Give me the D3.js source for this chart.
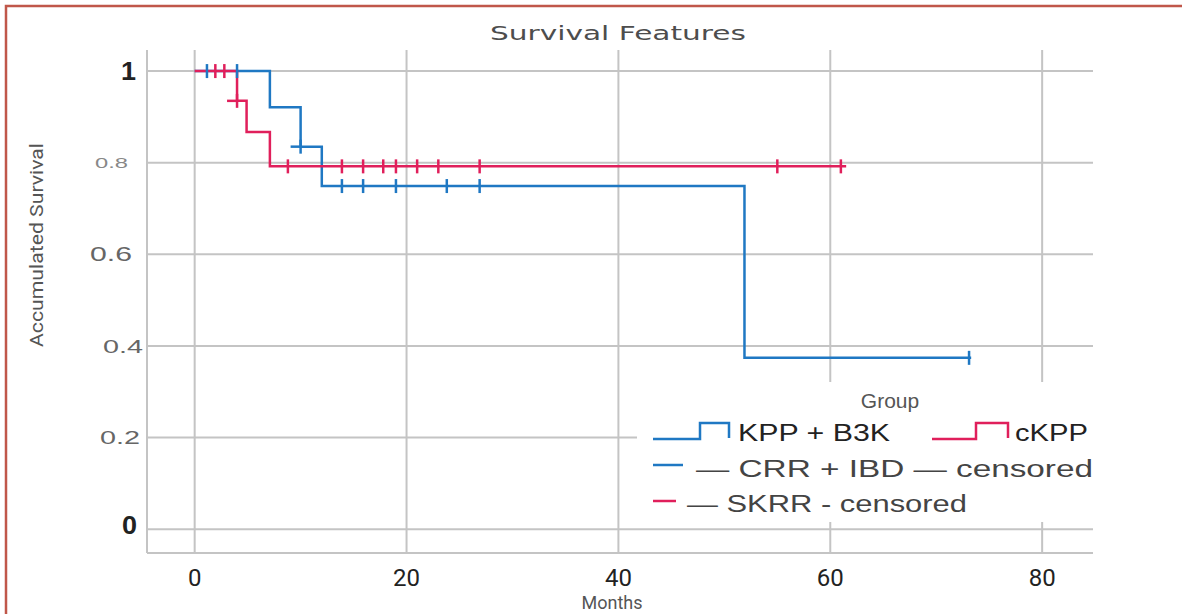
<!DOCTYPE html>
<html>
<head>
<meta charset="utf-8">
<script src="https://cdn.jsdelivr.net/npm/d3@7"></script>
<style>
  body { margin: 0; background: #fff; }
  svg { display: block; }
</style>
</head>
<body>
<svg id="chart" width="1182" height="614"></svg>
<script>
// step curve data (months, survival)
var blueTimes = [0, 7.1, 10.0, 12.0, 51.9];
var blueSurv = [1, 0.921, 0.835, 0.749, 0.374];
var blueEnd = 73.3;
var blueCensor = [1.16, 4.0, 10.0, 13.9, 15.9, 19.0, 23.8, 26.9, 73.1];

var redTimes = [0, 4.0, 4.9, 7.1];
var redSurv = [1, 0.935, 0.867, 0.792];
var redEnd = 61.5;
var redCensor = [1.95, 2.8, 4.0, 8.8, 13.9, 15.9, 17.8, 19.0, 21.0, 23.0, 26.9, 55.0, 61.0];

var xTicks = [0, 20, 40, 60, 80];
var yTicks = [0, 0.2, 0.4, 0.6, 0.8, 1];
var yTickLabels = ["0", "0.2", "0.4", "0.6", "0.8", "1"];

var blue = "#1f78c3", red = "#e01f5b", grid = "#c4c4c4";

var svg = d3.select("#chart");

// outer frame (only top and left edges visible)
svg.append("rect")
    .attr("x", 6).attr("y", 6)
    .attr("width", 1200).attr("height", 700)
    .attr("fill", "none")
    .attr("stroke", "#c0574a")
    .attr("stroke-width", 2.5);

var x = d3.scaleLinear().domain([-4.5, 84.8]).range([147, 1093]);
var y = d3.scaleLinear().domain([-0.052, 1.046]).range([553, 50]);

var g = svg.append("g");

// grid
g.selectAll("line.h")
    .data(yTicks.concat([-0.052]))
    .enter().append("line")
    .attr("x1", x(-4.5)).attr("x2", x(84.8))
    .attr("y1", function (d) { return y(d); })
    .attr("y2", function (d) { return y(d); })
    .attr("stroke", grid).attr("stroke-width", 2);

g.selectAll("line.v")
    .data([-4.5].concat(xTicks))
    .enter().append("line")
    .attr("x1", function (d) { return x(d); })
    .attr("x2", function (d) { return x(d); })
    .attr("y1", y(1.046)).attr("y2", y(-0.052))
    .attr("stroke", grid).attr("stroke-width", 2);

// title
svg.append("text")
    .attr("x", 618).attr("y", 40)
    .attr("text-anchor", "middle")
    .attr("font-family", "DejaVu Sans, sans-serif")
    .attr("font-size", 20)
    .attr("fill", "#4d4d4d")
    .attr("textLength", 256).attr("lengthAdjust", "spacingAndGlyphs")
    .text("Survival Features");

// y tick labels, the reference uses mixed sizes
var yStyle = {
    "0": { size: 25, right: 137, width: 15, fill: "#222", weight: "bold" },
    "0.2": { size: 19, right: 140, width: 40, fill: "#666", weight: "normal" },
    "0.4": { size: 19, right: 143, width: 40, fill: "#666", weight: "normal" },
    "0.6": { size: 20, right: 132, width: 42, fill: "#666", weight: "normal" },
    "0.8": { size: 14, right: 128, width: 33, fill: "#888", weight: "normal" },
    "1": { size: 26, right: 136, width: 15, fill: "#222", weight: "bold" }
};
svg.selectAll("text.ytick")
    .data(yTicks)
    .enter().append("text")
    .attr("class", "ytick")
    .attr("x", function (d, i) { return yStyle[yTickLabels[i]].right; })
    .attr("y", function (d, i) { return y(d) - (i == 0 ? 4 : 0); })
    .attr("dy", "0.35em")
    .attr("text-anchor", "end")
    .attr("font-family", "Liberation Sans, Arial, sans-serif")
    .attr("font-size", function (d, i) { return yStyle[yTickLabels[i]].size; })
    .attr("font-weight", function (d, i) { return yStyle[yTickLabels[i]].weight; })
    .attr("fill", function (d, i) { return yStyle[yTickLabels[i]].fill; })
    .attr("textLength", function (d, i) { return yStyle[yTickLabels[i]].width; })
    .attr("lengthAdjust", "spacingAndGlyphs")
    .text(function (d, i) { return yTickLabels[i]; });

// x tick labels
svg.selectAll("text.xtick")
    .data(xTicks)
    .enter().append("text")
    .attr("x", function (d) { return x(d); })
    .attr("y", 586)
    .attr("text-anchor", "middle")
    .attr("font-family", "Liberation Sans Narrow, Roboto, sans-serif")
    .attr("font-size", 24)
    .attr("fill", "#222")
    .text(function (d) { return d; });

svg.append("text")
    .attr("x", 612).attr("y", 609)
    .attr("text-anchor", "middle")
    .attr("font-family", "Liberation Sans Narrow, Roboto, sans-serif")
    .attr("font-size", 18)
    .attr("fill", "#555")
    .text("Months");

svg.append("text")
    .attr("transform", "translate(43,245) rotate(-90)")
    .attr("text-anchor", "middle")
    .attr("font-family", "Liberation Sans Narrow, Roboto, sans-serif")
    .attr("font-size", 18)
    .attr("fill", "#555")
    .attr("textLength", 204).attr("lengthAdjust", "spacingAndGlyphs")
    .text("Accumulated Survival");

// curves
function stepPoints(times, surv, end) {
    var pts = [];
    for (var i = 0; i < times.length; i++) {
        pts.push([times[i], surv[i]]);
        var next = i + 1 < times.length ? times[i + 1] : end;
        pts.push([next, surv[i]]);
    }
    return pts;
}
function survAt(times, surv, t) {
    var s = surv[0];
    for (var i = 0; i < times.length; i++) {
        if (t >= times[i]) s = surv[i];
    }
    return s;
}
var line = d3.line()
    .x(function (d) { return x(d[0]); })
    .y(function (d) { return y(d[1]); });

var series = [
    { times: blueTimes, surv: blueSurv, end: blueEnd, censor: blueCensor, color: blue },
    { times: redTimes, surv: redSurv, end: redEnd, censor: redCensor, color: red }
];

series.forEach(function (s) {
    g.append("path")
        .attr("d", line(stepPoints(s.times, s.surv, s.end)))
        .attr("fill", "none")
        .attr("stroke", s.color)
        .attr("stroke-width", 2.5);
});

series.forEach(function (s) {
    s.censor.forEach(function (t) {
        var cy = y(survAt(s.times, s.surv, t));
        var cx = x(t);
        g.append("line")
            .attr("x1", cx).attr("x2", cx)
            .attr("y1", cy - 7).attr("y2", cy + 7)
            .attr("stroke", s.color).attr("stroke-width", 2.5);
        // censored at a drop: small stub to the left
        if (t > 0 && s.times.indexOf(t) >= 0) {
            g.append("line")
                .attr("x1", cx - 10).attr("x2", cx)
                .attr("y1", cy).attr("y2", cy)
                .attr("stroke", s.color).attr("stroke-width", 2.5);
        }
    });
});

// legend
var lg = svg.append("g");
lg.append("rect")
    .attr("x", 637).attr("y", 382)
    .attr("width", 470).attr("height", 140)
    .attr("fill", "#fff");

lg.append("text")
    .attr("x", 890).attr("y", 408)
    .attr("text-anchor", "middle")
    .attr("font-family", "Liberation Sans, Arial, sans-serif")
    .attr("font-size", 21)
    .attr("fill", "#555")
    .text("Group");

function stepIcon(x0, x1, x2, color) {
    lg.append("path")
        .attr("d", "M" + x0 + ",439H" + x1 + "V423H" + x2 + "V438")
        .attr("fill", "none")
        .attr("stroke", color)
        .attr("stroke-width", 2.5);
}
stepIcon(653, 700, 729, blue);
stepIcon(932, 976, 1008, red);

lg.append("text")
    .attr("x", 738).attr("y", 441)
    .attr("font-family", "Liberation Sans, Arial, sans-serif")
    .attr("font-size", 23)
    .attr("fill", "#222")
    .attr("textLength", 152).attr("lengthAdjust", "spacingAndGlyphs")
    .text("KPP + B3K");
lg.append("text")
    .attr("x", 1015).attr("y", 441)
    .attr("font-family", "Liberation Sans, Arial, sans-serif")
    .attr("font-size", 23)
    .attr("fill", "#222")
    .attr("textLength", 73).attr("lengthAdjust", "spacingAndGlyphs")
    .text("cKPP");

lg.append("line")
    .attr("x1", 653).attr("x2", 683).attr("y1", 465).attr("y2", 465)
    .attr("stroke", blue).attr("stroke-width", 2.5);
lg.append("text")
    .attr("x", 696).attr("y", 477)
    .attr("font-family", "Liberation Sans, Arial, sans-serif")
    .attr("font-size", 23)
    .attr("fill", "#444")
    .attr("textLength", 397).attr("lengthAdjust", "spacingAndGlyphs")
    .text("\u2014 CRR + IBD \u2014 censored");

lg.append("line")
    .attr("x1", 653).attr("x2", 676).attr("y1", 501).attr("y2", 501)
    .attr("stroke", red).attr("stroke-width", 2.5);
lg.append("text")
    .attr("x", 687).attr("y", 512)
    .attr("font-family", "Liberation Sans, Arial, sans-serif")
    .attr("font-size", 23)
    .attr("fill", "#444")
    .attr("textLength", 280).attr("lengthAdjust", "spacingAndGlyphs")
    .text("\u2014 SKRR - censored");
</script>
</body>
</html>
